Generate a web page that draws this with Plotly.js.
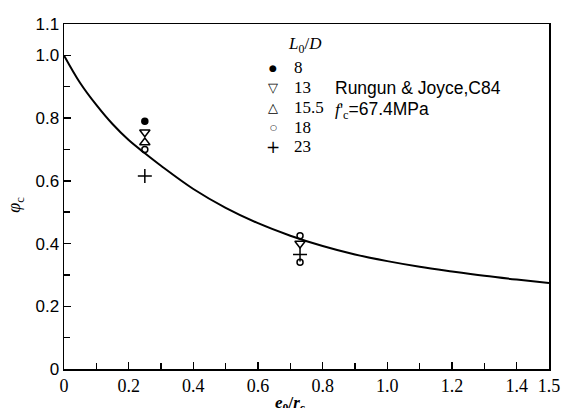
<!DOCTYPE html>
<html><head><meta charset="utf-8">
<script src="https://cdn.plot.ly/plotly-3.0.1.min.js"></script>
<style>body{margin:0;background:#fff}#c{width:561px;height:408px}</style>
</head><body><div id="c"></div>
<script>
// curve
const curveX = [0, 0.05, 0.1, 0.15, 0.2, 0.25, 0.3, 0.4, 0.5, 0.6, 0.7, 0.8, 0.9, 1.0, 1.1, 1.2, 1.3, 1.4, 1.5];
const curveY = [1.0, 0.912, 0.842, 0.781, 0.73, 0.688, 0.648, 0.574, 0.514, 0.465, 0.425, 0.392, 0.365, 0.344, 0.326, 0.311, 0.297, 0.285, 0.274];
// test points by L0/D
const labels = ["8", "13", "15.5", "18", "23"];
const ptX = [[0.25], [0.25, 0.73], [0.25], [0.25, 0.73, 0.73], [0.25, 0.73]];
const ptY = [[0.79], [0.755, 0.40], [0.722], [0.70, 0.425, 0.34], [0.615, 0.365]];
const symbols = ["circle", "triangle-down-open", "triangle-up-open", "circle-open", "cross-thin-open"];
const glyphs = ["●", "▽", "△", "○", "+"];
const glyphSizes = [9, 13, 13, 8, 17];
const sizes = [6, 9, 9, 6, 10];
const xTicks = [0, 0.2, 0.4, 0.6, 0.8, 1.0, 1.2, 1.4, 1.5];
const xTickText = ["0", "0.2", "0.4", "0.6", "0.8", "1.0", "1.2", "1.4", "1.5"];
const xMinor = [0.1, 0.3, 0.5, 0.7, 0.9, 1.1, 1.3];
const yTicks = [0, 0.2, 0.4, 0.6, 0.8, 1.0, 1.1];
const yTickText = ["0", "0.2", "0.4", "0.6", "0.8", "1.0", "1.1"];
const yMinor = [0.1, 0.3, 0.5, 0.7, 0.9];

const traces = [{x: curveX, y: curveY, mode: 'lines', line: {color: '#000', width: 2, shape: 'spline'}, showlegend: false, hoverinfo: 'skip'}];
labels.forEach((l, i) => traces.push({
  x: ptX[i], y: ptY[i], mode: 'markers', name: l, showlegend: false,
  marker: {symbol: symbols[i], size: sizes[i], color: '#000', line: {color: '#000', width: 1.5}}
}));

const serif = 'Liberation Serif, Times New Roman, serif';
const sans = 'Liberation Sans, Arial, sans-serif';
const axBase = {showgrid: false, zeroline: false, showline: true, linecolor: '#000', linewidth: 1.5,
  mirror: true, ticks: 'inside', ticklen: 7, tickcolor: '#000', tickwidth: 1.5, tickmode: 'array', layer: 'above traces'};

// text legend (rows laid out in paper space)
const H = 345, top0 = 24;
const py = p => 1 - (p - top0) / H;
const ann = [];
ann.push({xref: 'paper', yref: 'paper', x: 0.458, y: py(45), xanchor: 'left', yanchor: 'middle', showarrow: false,
  text: '<i>L</i><sub>0</sub>/<i>D</i>', font: {family: serif, size: 17, color: '#000'}});
labels.forEach((l, i) => {
  const yy = py(68 + i * 19.7);
  ann.push({xref: 'paper', yref: 'paper', x: 0.431, y: yy, xanchor: 'center', yanchor: 'middle', showarrow: false,
    text: glyphs[i], font: {family: 'DejaVu Sans', size: glyphSizes[i], color: '#000'}});
  ann.push({xref: 'paper', yref: 'paper', x: 0.470, y: yy, xanchor: 'left', yanchor: 'middle', showarrow: false,
    text: l, font: {family: serif, size: 17, color: '#000'}});
});
ann.push(
  {xref: 'paper', yref: 'paper', x: 0.555, y: py(88), xanchor: 'left', yanchor: 'middle', showarrow: false,
   text: 'Rungun & Joyce,C84', font: {family: sans, size: 17.5, color: '#000'}},
  {xref: 'paper', yref: 'paper', x: 0.555, y: py(110), xanchor: 'left', yanchor: 'middle', showarrow: false,
   text: "<span style='font-family:Liberation Serif'><i>f</i>'<sub>c</sub></span>=67.4MPa", font: {family: sans, size: 17.5, color: '#000'}},
  {xref: 'paper', yref: 'paper', x: 0.466, y: -0.065, xanchor: 'center', yanchor: 'top', showarrow: false,
   text: '<b><i>e</i><sub>0</sub>/<i>r</i><sub>c</sub></b>', font: {family: serif, size: 17, color: '#000'}},
  {xref: 'paper', yref: 'paper', x: -0.1, y: 0.475, xanchor: 'center', yanchor: 'middle', showarrow: false, textangle: -90,
   text: '<i>φ</i><sub>c</sub>', font: {family: serif, size: 18, color: '#000'}}
);

const layout = {
  width: 561, height: 408, margin: {l: 64, r: 12, t: 24, b: 39},
  paper_bgcolor: '#fff', plot_bgcolor: '#fff', showlegend: false,
  xaxis: Object.assign({}, axBase, {range: [0, 1.5], tickvals: xTicks, ticktext: xTickText,
    minor: {tickmode: 'array', tickvals: xMinor, ticks: 'inside', ticklen: 6, tickcolor: '#000', tickwidth: 1.5, showgrid: false},
    tickfont: {family: serif, size: 18, color: '#000'}}),
  yaxis: Object.assign({}, axBase, {range: [0, 1.1], tickvals: yTicks, ticktext: yTickText,
    minor: {tickmode: 'array', tickvals: yMinor, ticks: 'inside', ticklen: 6, tickcolor: '#000', tickwidth: 1.5, showgrid: false},
    tickfont: {family: sans, size: 17, color: '#000'}}),
  annotations: ann
};
Plotly.newPlot('c', traces, layout, {displayModeBar: false, staticPlot: true});
</script></body></html>
